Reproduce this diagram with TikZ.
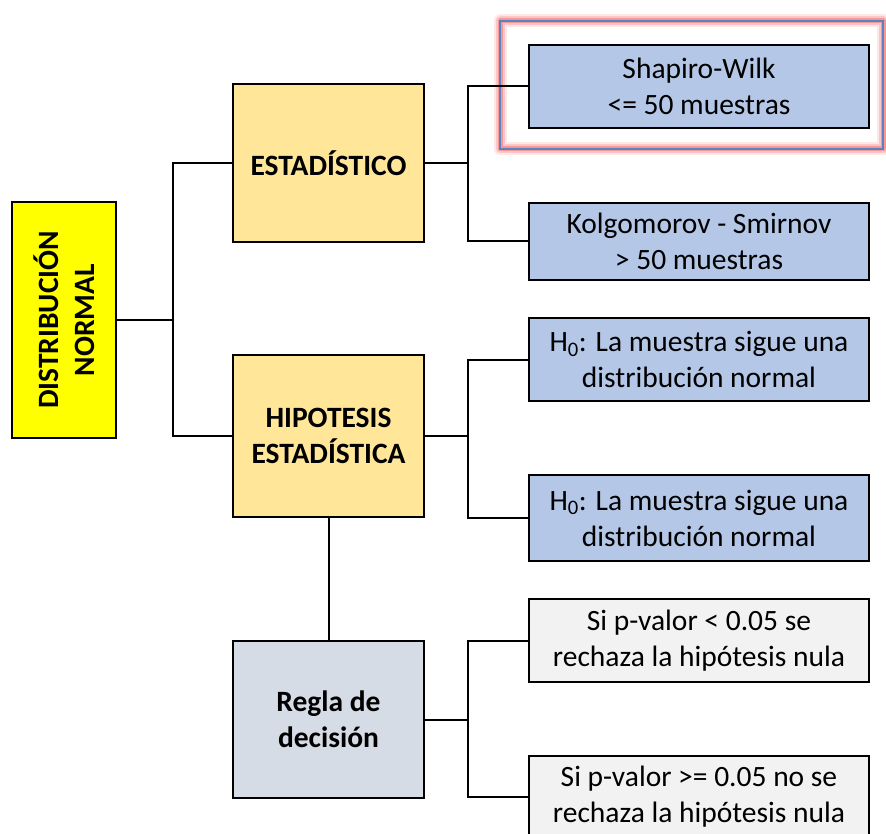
\documentclass[tikz,border=0pt]{standalone}
\usepackage{fontspec}
\setmainfont{Carlito}
\definecolor{ylw}{HTML}{FFFF00}
\definecolor{org}{HTML}{FFE699}
\definecolor{blu}{HTML}{B4C7E7}
\definecolor{gbl}{HTML}{D6DCE5}
\definecolor{lgr}{HTML}{F2F2F2}
\definecolor{glowred}{HTML}{F06060}
\definecolor{glowblue}{HTML}{5B80C4}
\tikzset{
  box/.style={draw=black, line width=2pt, rectangle, inner sep=0pt, align=center,
    font=\fontsize{29.5}{36}\selectfont},
  bbox/.style={box, font=\bfseries\fontsize{29.5}{36}\selectfont},
  conn/.style={draw=black, line width=2pt},
  glow/.style={draw=glowred, line join=round},
}
\begin{document}
\begin{tikzpicture}[x=1pt,y=-1pt]
\useasboundingbox (0,0) rectangle (886,834);
\clip (0,0) rectangle (886,834);
% glow frame
\draw[glow, line width=13pt, opacity=0.15] (500,21) rectangle (883,149);
\draw[glow, line width=9pt, opacity=0.25] (500,21) rectangle (883,149);
\draw[glow, line width=5pt, opacity=0.45] (500,21) rectangle (883,149);
\draw[glowblue, line width=1.5pt] (500,21) rectangle (883,149);
% left box
\node[box, fill=ylw, minimum width=104pt, minimum height=236pt] (dn) at (64,320) {};
\node[font=\bfseries\fontsize{29.5}{36}\selectfont, align=center, rotate=90, inner sep=0pt] (dnt) at (dn.center) {DISTRIBUCIÓN\\NORMAL};
% middle boxes
\node[bbox, fill=org, minimum width=191pt, minimum height=158pt] (est) at (328.5,163) {ESTADÍSTICO};
\node[bbox, fill=org, minimum width=191pt, minimum height=162pt] (hip) at (328.5,436) {HIPOTESIS\\ESTADÍSTICA};
\node[bbox, fill=gbl, minimum width=191pt, minimum height=157pt] (reg) at (328.5,719.5) {Regla de\\decisión};
% right boxes
\node[box, fill=blu, minimum width=340pt, minimum height=83pt] (sw) at (699,86.5) {Shapiro-Wilk\\<= 50 muestras};
\node[box, fill=blu, minimum width=340pt, minimum height=77pt] (ks) at (699,241.5) {Kolgomorov - Smirnov\\> 50 muestras};
\node[box, fill=blu, minimum width=340pt, minimum height=83pt] (h1) at (699,359.5) {H\textsubscript{0}: La muestra sigue una\\distribución normal};
\node[box, fill=blu, minimum width=340pt, minimum height=86pt] (h2) at (699,518) {H\textsubscript{0}: La muestra sigue una\\distribución normal};
\node[box, fill=lgr, minimum width=340pt, minimum height=83pt] (g1) at (699,640.5) {Si p-valor < 0.05 se\\rechaza la hipótesis nula};
\node[box, fill=lgr, minimum width=340pt, minimum height=82pt] (g2) at (699,797) {Si p-valor >= 0.05 no se\\rechaza la hipótesis nula};
% junction coordinates
\coordinate (j1) at (173,0);
\coordinate (j2) at (468,0);
% connectors
\draw[conn] (dn.east) -- (dn.east -| j1);
\draw[conn] (est.west) -| (j1 |- hip.west) -- (hip.west);
\draw[conn] (est.east) -- (est.east -| j2);
\draw[conn] (sw.west) -| (j2 |- ks.west) -- (ks.west);
\draw[conn] (hip.east) -- (hip.east -| j2);
\draw[conn] (h1.west) -| (j2 |- h2.west) -- (h2.west);
\draw[conn] (reg.east) -- (reg.east -| j2);
\draw[conn] (g1.west) -| (j2 |- g2.west) -- (g2.west);
\draw[conn] (hip.south) -- (reg.north);
\end{tikzpicture}
\end{document}
